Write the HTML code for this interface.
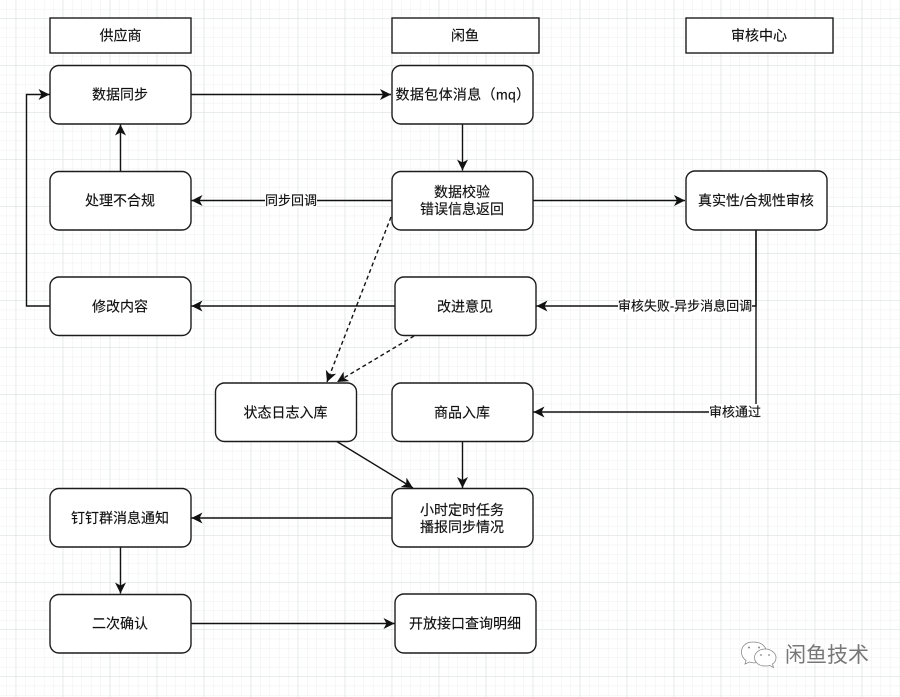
<!DOCTYPE html>
<html><head><meta charset="utf-8"><style>
html,body{margin:0;padding:0;background:#fff;width:900px;height:697px;overflow:hidden}
svg{display:block}
text{font-family:"Liberation Sans","Noto Sans CJK SC",sans-serif;font-size:14px;fill:#111;text-anchor:middle;stroke:#111;stroke-width:0.15}
.b{fill:#fff;stroke:#1c1c1c;stroke-width:1.4}
.e{fill:none;stroke:#111;stroke-width:1.4}
.d{stroke-dasharray:4 3}
.l{fill:#fff;stroke:none}
</style></head><body>
<svg width="900" height="697" viewBox="0 0 900 697" xmlns="http://www.w3.org/2000/svg">
<defs>
<pattern id="mi" width="9.4" height="9.4" patternUnits="userSpaceOnUse" x="15.7" y="18.3">
<path d="M0 0H9.4M0 0V9.4" fill="none" stroke="#eceff0" stroke-width="1"/></pattern>
<pattern id="ma" width="47" height="47" patternUnits="userSpaceOnUse" x="15.7" y="18.3">
<path d="M0 0H47M0 0V47" fill="none" stroke="#dcdfe2" stroke-width="1.1"/></pattern>
<marker id="a" markerUnits="userSpaceOnUse" markerWidth="12" markerHeight="12" refX="11" refY="6" orient="auto">
<path d="M0 0.500L11 6L0 11.500L3 6Z" fill="#111"/></marker>
</defs>
<rect width="900" height="697" fill="#fff"/>
<rect width="900" height="697" fill="url(#mi)"/>
<rect width="900" height="697" fill="url(#ma)"/>

<path class="e" d="M191 94.500H391" marker-end="url(#a)"/>
<path class="e" d="M462.500 124V170.500" marker-end="url(#a)"/>
<path class="e" d="M120.500 171V124.500" marker-end="url(#a)"/>
<path class="e" d="M392 200.500H191.500" marker-end="url(#a)"/>
<path class="e" d="M533 200.500H685" marker-end="url(#a)"/>
<path class="e" d="M50 306H26.500V94.500H49.500" marker-end="url(#a)"/>
<path class="e" d="M395 306H191.500" marker-end="url(#a)"/>
<path class="e" d="M756 230V306H536.500" marker-end="url(#a)"/>
<path class="e" d="M756 230V412H533.500" marker-end="url(#a)"/>
<path class="e d" d="M391 217L327 382" marker-end="url(#a)"/>
<path class="e d" d="M414 336L337 382" marker-end="url(#a)"/>
<path class="e" d="M336 441L413 488" marker-end="url(#a)"/>
<path class="e" d="M462.500 441V488" marker-end="url(#a)"/>
<path class="e" d="M392 518H191.500" marker-end="url(#a)"/>
<path class="e" d="M120.500 547V593.500" marker-end="url(#a)"/>
<path class="e" d="M191 623.500H394.500" marker-end="url(#a)"/>

<rect class="b" x="50" y="18" width="141" height="35"/><text x="120.500" y="40.500">供应商</text>
<rect class="b" x="392" y="18" width="147" height="35"/><text x="465" y="40.500">闲鱼</text>
<rect class="b" x="686" y="18" width="147" height="35"/><text x="759" y="40.500">审核中心</text>

<rect class="b" x="50" y="65.500" width="141" height="58.500" rx="9"/><text x="120" y="99.500">数据同步</text>
<rect class="b" x="392" y="65.500" width="141" height="58.500" rx="9"/><text x="463" y="99.500" style="letter-spacing:.35px">数据包体消息（mq）</text>
<rect class="b" x="50" y="171.500" width="141" height="58.500" rx="9"/><text x="120" y="205.500">处理不合规</text>
<rect class="b" x="392" y="171.500" width="141" height="58.500" rx="9"/><text x="462" y="197">数据校验</text><text x="462" y="214">错误信息返回</text>
<rect class="b" x="686" y="171" width="141" height="59" rx="9"/><text x="756" y="205.500">真实性/合规性审核</text>
<rect class="b" x="50" y="277" width="141" height="58.500" rx="9"/><text x="120" y="311.500">修改内容</text>
<rect class="b" x="395" y="277" width="141" height="58.500" rx="9"/><text x="465" y="311.500">改进意见</text>
<rect class="b" x="215.500" y="383" width="141" height="58.500" rx="9"/><text x="285.500" y="417.500">状态日志入库</text>
<rect class="b" x="392" y="383" width="141" height="58.500" rx="9"/><text x="462" y="417.500">商品入库</text>
<rect class="b" x="392" y="488.500" width="141" height="58.500" rx="9"/><text x="462" y="515">小时定时任务</text><text x="462" y="532">播报同步情况</text>
<rect class="b" x="50" y="488.500" width="141" height="58.500" rx="9"/><text x="120" y="523">钉钉群消息通知</text>
<rect class="b" x="50" y="594.500" width="141" height="58.500" rx="9"/><text x="120" y="628.500">二次确认</text>
<rect class="b" x="395" y="594" width="141" height="59" rx="9"/><text x="465" y="628.500">开放接口查询明细</text>

<rect class="l" x="265" y="193" width="52" height="15"/><text x="291" y="205" style="font-size:13px">同步回调</text>
<rect class="l" x="618" y="298" width="134" height="16"/><text x="685" y="310.500" style="font-size:13px">审核失败-异步消息回调</text>
<rect class="l" x="709" y="404" width="52" height="16"/><text x="735" y="416.500" style="font-size:13px">审核通过</text>

<g fill="#fff" stroke="#8a8a8a" stroke-width="0.8">
<path d="M753 642C745 642 741.500 647 741.500 652C741.500 656 744 659 746 660.500L745 664L749.500 662C752 663 755 663 757 662.500C762 659 765 657 766.500 651C765 645 760 642 753 642Z"/>
<path d="M765 649C759 649 754.500 653 754.500 657.500C754.500 662.500 759 666 765 666C767 666 768 666 770 665.500L773.500 667.500L772.500 664C775 662.500 776 660 776 657.500C776 653 771 649 765 649Z"/>
</g>
<g fill="#888"><circle cx="749" cy="647.500" r="1"/><circle cx="759" cy="647.500" r="1"/><circle cx="761" cy="655" r="0.900"/><circle cx="769" cy="655" r="0.900"/></g>
<text x="827" y="662" style="font-size:21px;fill:#777;stroke:#fff;stroke-width:0.500;paint-order:stroke">闲鱼技术</text>
</svg>
</body></html>
